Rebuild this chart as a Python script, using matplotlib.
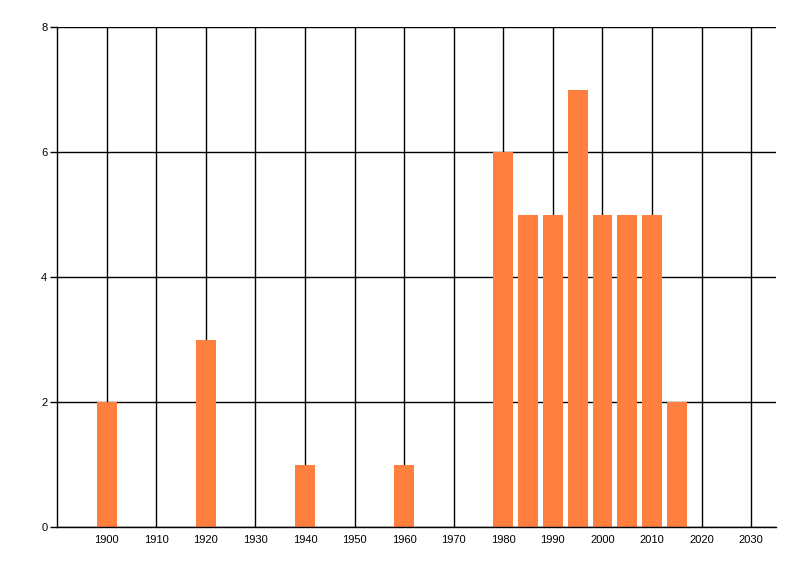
import matplotlib
matplotlib.use("Agg")
import matplotlib.pyplot as plt

years = [1900, 1920, 1940, 1960, 1980, 1985, 1990, 1995, 2000, 2005, 2010, 2015]
counts = [2, 3, 1, 1, 6, 5, 5, 7, 5, 5, 5, 2]
xticks = list(range(1900, 2031, 10))
yticks = [0, 2, 4, 6, 8]

plt.rcParams['font.family'] = ['Liberation Sans', 'DejaVu Sans']
fig = plt.figure(figsize=(8, 5.76), dpi=100)
ax = fig.add_axes([57/800, 49/576, (776-57)/800, 500/576])
ax.bar(years, counts, width=4, color='#FF7F3F', zorder=3)
ax.set_xlim(1890, 2035)
ax.set_ylim(0, 8)
ax.set_xticks(xticks)
ax.set_yticks(yticks)
ax.grid(True, color='black', linewidth=1, zorder=0)
ax.set_axisbelow(True)
for s in ['top', 'right']:
    ax.spines[s].set_visible(False)
for s in ['left', 'bottom']:
    ax.spines[s].set_linewidth(1)
    ax.spines[s].set_zorder(4)
ax.tick_params(axis='y', length=5, width=1, labelsize=8, pad=2)
ax.tick_params(axis='x', length=0, labelsize=8, pad=6)
fig.savefig('out.png', dpi=100)
